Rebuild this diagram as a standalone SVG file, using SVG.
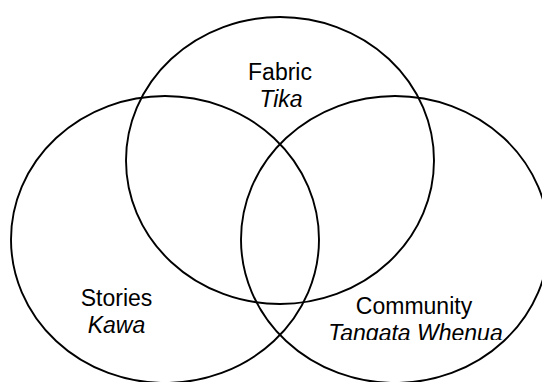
<svg xmlns="http://www.w3.org/2000/svg" width="542" height="382" viewBox="0 0 542 382">
<style>
.c{fill:none;stroke:#000;stroke-width:1.9}
.t{font-family:"Liberation Sans",Arial,sans-serif;font-size:23px;fill:#000;text-anchor:middle}
.i{font-style:italic}
</style>
<defs>
<clipPath id="cut"><rect x="300" y="280" width="242" height="60"/></clipPath>
</defs>
<rect width="542" height="382" fill="#fff"/>
<g id="fabric">
<ellipse class="c" cx="280" cy="160.5" rx="154" ry="143.5"/>
<text class="t" x="280" y="80">Fabric</text>
<text class="t i" x="281" y="107">Tika</text>
</g>
<g id="stories">
<ellipse class="c" cx="165" cy="239.5" rx="154" ry="143.5"/>
<text class="t" x="116.5" y="306">Stories</text>
<text class="t i" x="116.5" y="333">Kawa</text>
</g>
<g id="community">
<ellipse class="c" cx="395" cy="239.5" rx="154" ry="143.5"/>
<text class="t" x="414" y="314">Community</text>
<text class="t i" x="415.5" y="341" clip-path="url(#cut)">Tangata Whenua</text>
</g>
<g id="connectors"></g>
</svg>
